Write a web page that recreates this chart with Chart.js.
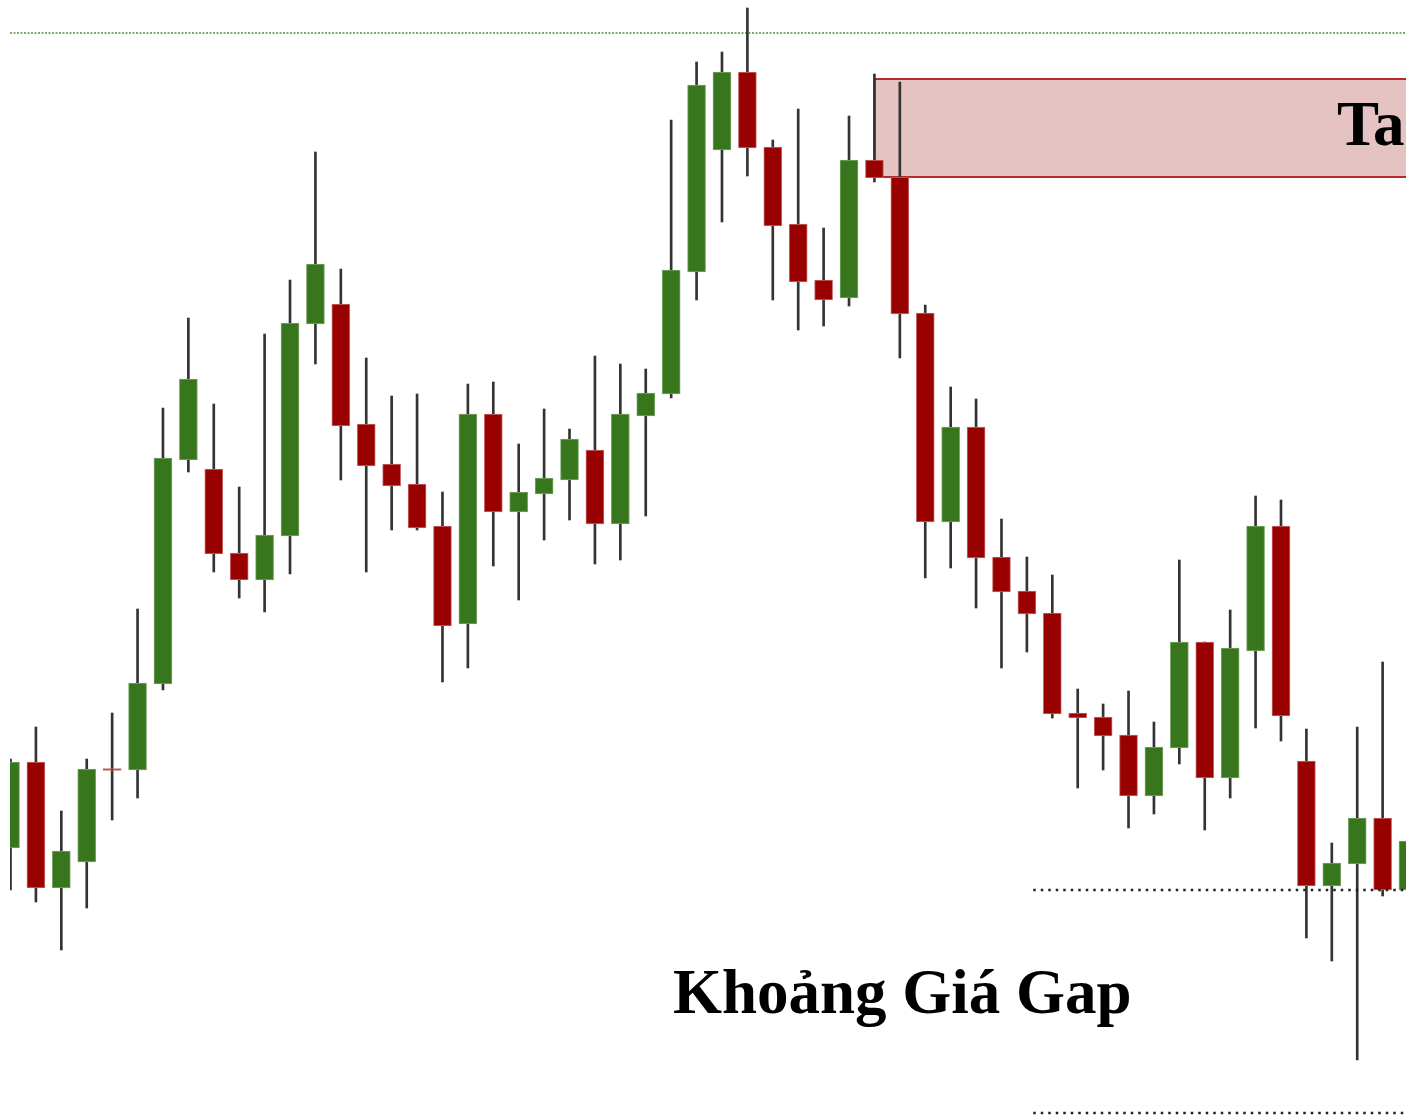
<!DOCTYPE html>
<html>
<head>
    <title>Khoảng Giá Gap</title>
    <script src="https://cdn.jsdelivr.net/npm/chart.js"></script>
    <style>
        body {
            margin: 0;
            background-color: #ffffff;
        }

        #wrap {
            position: absolute;
            left: 10px;
            top: 0;
            width: 1396px;
            height: 1120px;
        }
    </style>
</head>
<body>
    <div id="wrap"><canvas id="gapChart" width="1396" height="1120"></canvas></div>

    <script>
        // OHLC values (price units, bottom of picture = 0)
        var opens  = [272, 358, 232, 258, 351, 350, 436, 660, 651, 567, 540, 584, 796, 816, 696, 656, 636, 594, 496, 706,
                      608, 626, 640, 670, 596, 704, 726, 848, 970, 1048, 973, 896, 840, 822, 960, 943, 807, 598, 693, 563,
                      529, 507, 407, 403, 385, 324, 372, 478, 342, 469, 594, 359, 234, 256, 302, 230];
        var highs  = [361, 393, 309, 361, 407, 511, 712, 802, 716, 633, 786, 840, 968, 851, 762, 724, 726, 628, 736, 738,
                      676, 711, 691, 764, 756, 751, 1000, 1058, 1068, 1112, 980, 1011, 892, 1004, 1046, 1038, 815, 733, 721, 601,
                      563, 545, 431, 416, 429, 398, 560, 478, 510, 624, 620, 391, 277, 393, 458, 285];
        var lows   = [230, 218, 170, 212, 300, 322, 430, 648, 548, 522, 508, 546, 756, 640, 548, 590, 590, 438, 452, 554,
                      520, 580, 600, 556, 560, 604, 722, 820, 898, 944, 820, 790, 794, 814, 938, 762, 542, 552, 512, 452,
                      468, 402, 332, 350, 292, 306, 356, 290, 322, 392, 379, 182, 159, 60, 224, 225];
        var closes = [358, 232, 269, 351, 349.5, 437, 662, 741, 566, 540, 585, 797, 856, 694, 654, 634, 592, 494, 706, 608,
                      628, 642, 681, 596, 706, 727, 850, 1035, 1048, 972, 894, 838, 820, 960, 942, 806, 598, 693, 562, 528,
                      506, 406, 402, 384, 324, 373, 478, 342, 472, 594, 404, 234, 257, 302, 230, 279];

        // levels drawn with the candles
        var resistanceLevel = 1087;
        var supplyZone = [943, 1041];
        var supplyZoneStart = 34;
        var gapLevels = [230, 7];
        var gapStart = 40.25;
        var gapLabel = 'Khoảng Giá Gap';
        var zoneLabel = 'Ta';

        var upColor = '#38761d';
        var downColor = '#990000';

        var bodies = [];
        var wicks = [];
        var bodyColors = [];
        var bodyBorders = [];
        for (var i = 0; i < opens.length; i++) {
            bodies.push({ x: i, y: [Math.min(opens[i], closes[i]), Math.max(opens[i], closes[i])] });
            wicks.push({ x: i, y: [lows[i], highs[i]] });
            var up = closes[i] > opens[i];
            bodyColors.push(up ? upColor : downColor);
            bodyBorders.push(up ? '#7aa566' : '#c76a6a');
        }

        // zone box, level lines and labels
        var levelsPlugin = {
            id: 'levels',
            beforeDatasetsDraw: function(chart) {
                var ctx = chart.ctx;
                var x = chart.scales.x;
                var y = chart.scales.y;
                var area = chart.chartArea;

                // green dotted resistance line
                ctx.save();
                ctx.strokeStyle = '#4f9235';
                ctx.lineWidth = 1.5;
                ctx.setLineDash([2, 1.5]);
                ctx.beginPath();
                ctx.moveTo(area.left, y.getPixelForValue(resistanceLevel));
                ctx.lineTo(area.right, y.getPixelForValue(resistanceLevel));
                ctx.stroke();
                ctx.restore();

                // supply zone box
                var left = x.getPixelForValue(supplyZoneStart);
                var top = y.getPixelForValue(supplyZone[1]);
                var bottom = y.getPixelForValue(supplyZone[0]);
                ctx.save();
                ctx.fillStyle = '#e5c3c3';
                ctx.fillRect(left, top, area.right - left + 5, bottom - top);
                ctx.strokeStyle = '#b22a2a';
                ctx.lineWidth = 2;
                ctx.strokeRect(left, top, area.right - left + 5, bottom - top);
                ctx.restore();
            },
            afterDatasetsDraw: function(chart) {
                var ctx = chart.ctx;
                var x = chart.scales.x;
                var y = chart.scales.y;
                var area = chart.chartArea;

                // black dotted gap lines
                ctx.save();
                ctx.strokeStyle = '#222222';
                ctx.lineWidth = 2.5;
                ctx.setLineDash([2.5, 5]);
                gapLevels.forEach(function(level) {
                    var py = y.getPixelForValue(level);
                    ctx.beginPath();
                    ctx.moveTo(x.getPixelForValue(gapStart), py);
                    ctx.lineTo(area.right, py);
                    ctx.stroke();
                });
                ctx.restore();

                // labels
                ctx.save();
                ctx.fillStyle = '#000000';
                ctx.font = 'bold 63px "Liberation Serif", "DejaVu Serif", serif';
                ctx.textBaseline = 'alphabetic';
                ctx.fillText(gapLabel, x.getPixelForValue(26.07), y.getPixelForValue(107));
                ctx.fillText(zoneLabel, x.getPixelForValue(52.2), y.getPixelForValue(975));
                ctx.restore();
            }
        };

        var ctx = document.getElementById('gapChart').getContext('2d');
        var gapChart = new Chart(ctx, {
            type: 'bar',
            data: {
                datasets: [{
                    label: 'Body',
                    data: bodies,
                    backgroundColor: bodyColors,
                    borderColor: bodyBorders,
                    borderWidth: 1,
                    borderSkipped: false,
                    barThickness: 18,
                    minBarLength: 2,
                    grouped: false,
                    order: 1
                }, {
                    label: 'Wick',
                    data: wicks,
                    backgroundColor: '#333333',
                    borderWidth: 0,
                    barThickness: 2,
                    grouped: false,
                    order: 2
                }]
            },
            options: {
                responsive: false,
                animation: false,
                devicePixelRatio: 1,
                layout: { padding: 0 },
                plugins: {
                    legend: { display: false },
                    tooltip: { enabled: false },
                    title: { display: false }
                },
                scales: {
                    x: {
                        type: 'linear',
                        display: false,
                        offset: false,
                        grid: { offset: false },
                        min: -0.02,
                        max: 54.92
                    },
                    y: {
                        display: false,
                        min: 0,
                        max: 1120
                    }
                }
            },
            plugins: [levelsPlugin]
        });
    </script>
</body>
</html>
